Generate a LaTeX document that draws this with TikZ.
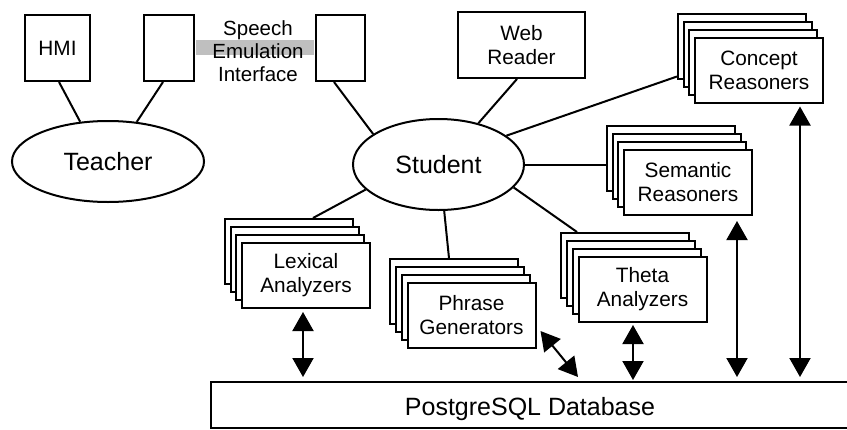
\documentclass[tikz,border=0pt]{standalone}
\usepackage{fontspec}
\setmainfont{Liberation Sans}
\usetikzlibrary{arrows.meta,shapes.geometric,calc}

\newcommand\mkstack[4]{%
  \foreach \k in {3,2,1} {\node[stackbox] (#1\k) at ({#2-\k*5.67},{#3-\k*8}) {};}
  \node[stackbox] (#1) at (#2,#3) {#4};
}

\begin{document}
\begin{tikzpicture}[x=1pt,y=-1pt, line width=2pt,
  lbl/.style={font=\fontsize{20.8pt}{24pt}\selectfont, align=center},
  big/.style={font=\fontsize{25pt}{28pt}\selectfont},
  box/.style={draw, fill=white, inner sep=0pt, lbl},
  stackbox/.style={box, minimum width=128pt, minimum height=65pt},
  actor/.style={draw, ellipse, inner sep=0pt, big},
  dbl/.style={{Triangle[width=21pt,length=19pt]}-{Triangle[width=21pt,length=19pt]}},
]
\useasboundingbox (0,0) rectangle (847,429);
\clip (0,0) rectangle (847,429);

% single boxes
\node[box, minimum width=65pt, minimum height=66pt] (hmi) at (57.5,48) {HMI};
\node[box, minimum width=50pt, minimum height=66pt] (tb) at (169,48) {};
\node[box, minimum width=49pt, minimum height=66pt] (sb) at (340.5,48) {};
\node[box, minimum width=127pt, minimum height=66pt] (web) at (521.5,45) {Web\\Reader};

% speech emulation interface
\fill[black!25] ([xshift=1pt,yshift=8pt]tb.east) rectangle ([xshift=-1pt,yshift=-7pt]sb.west);
\node[lbl, font=\fontsize{20.5pt}{23pt}\selectfont] (sei) at (258,51) {Speech\\Emulation\\Interface};

% actors
\node[actor, minimum width=192pt, minimum height=81pt] (teacher) at (108,161.5) {Teacher};
\node[actor, minimum width=171pt, minimum height=91pt] (student) at (438.5,164.5) {Student};

% stacks
\mkstack{lex}{306}{275.5}{Lexical\\Analyzers}
\mkstack{phr}{471.5}{315.5}{Phrase\\Generators}
\mkstack{the}{642.5}{289.5}{Theta\\Analyzers}
\mkstack{sem}{688}{182.5}{Semantic\\Reasoners}
\mkstack{con}{759}{70}{Concept\\Reasoners}

% database
\node[draw, inner sep=0pt, minimum width=700pt, minimum height=46pt, anchor=north west] (db) at (210,381) {};
\node[big, anchor=base] (dbt) at (530,415) {PostgreSQL Database};

% connectors
\draw ([xshift=1.5pt]hmi.south) -- (teacher.125);
\draw ([xshift=-6pt]tb.south) -- (teacher.54);
\draw ([xshift=-6.5pt]sb.south) -- (student.155);
\draw ([xshift=-4.5pt]web.south) -- (student.46);
\draw (student.23) -- ([yshift=3pt]con3.south west);
\draw (student.east) -- (student.east -| sem3.west);
\draw (student.199) -- ([xshift=24pt]lex3.north);
\draw (student.277) -- ([xshift=-5.5pt]phr3.north);
\draw (student.343) -- ([xshift=-48.5pt]the3.north);

% database arrows
\draw[dbl] ($(lex.south)+(-3,3)$) -- ($(lex.south |- db.north)+(-3,-4)$);
\draw[dbl] ($(phr.south east)+(4,-18)$) -- ($(db.north west)+(368,-4)$);
\draw[dbl] ($(the.south)+(-9.5,2)$) -- ($(the.south |- db.north)+(-9.5,-1)$);
\draw[dbl] ($(sem.south)+(49,5)$) -- ($(sem.south |- db.north)+(49,-4)$);
\draw[dbl] ($(con.south)+(41,3)$) -- ($(con.south |- db.north)+(41,-4)$);
\end{tikzpicture}
\end{document}
